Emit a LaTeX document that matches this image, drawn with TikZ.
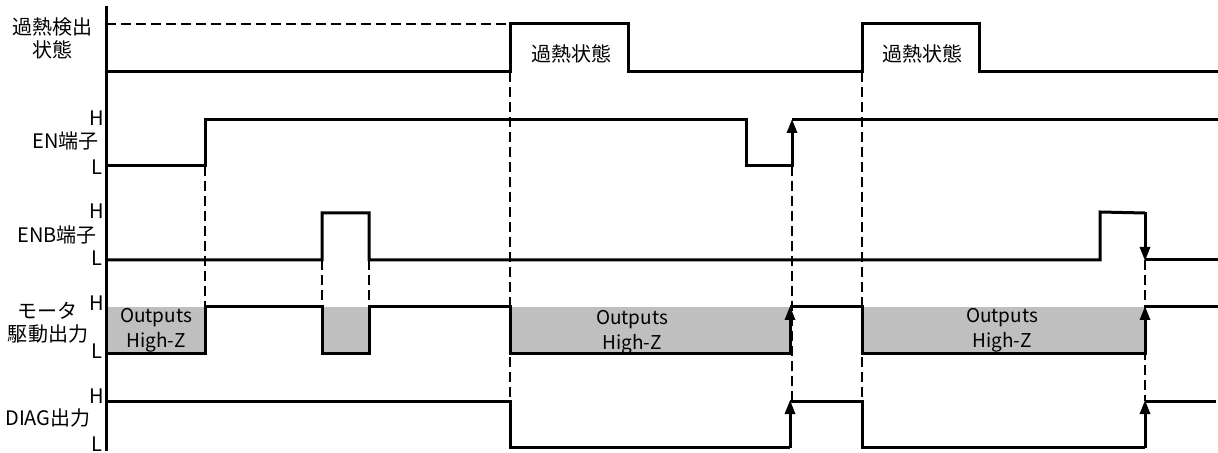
\documentclass[tikz,border=0pt]{standalone}
\usepackage{fontspec}
\setmainfont{Noto Sans CJK JP}
\usetikzlibrary{arrows.meta}
\begin{document}
\begin{tikzpicture}[x=0.5pt,y=-0.5pt,
  sig/.style={line width=1.5pt, line join=miter},
  guide/.style={line width=0.8pt, dash pattern=on 5pt off 2.5pt},
  hz/.style={fill=black!25, draw=none},
  lbl/.style={font=\fontsize{10}{11.5}\selectfont, align=center, inner sep=0pt},
  hl/.style={font=\fontsize{10}{11}\selectfont, inner sep=0pt},
  oz/.style={font=\fontsize{9.5}{12.5}\selectfont, align=center, inner sep=0pt},
  tip/.style={line width=1.5pt, -{Triangle[length=7pt,width=5pt]}}]
\useasboundingbox (0,0) rectangle (1218,453);

% High-Z shaded regions
\fill[hz] (106,307) rectangle (205,354);
\fill[hz] (322,307) rectangle (369,354);
\fill[hz] (510,307) rectangle (790,354);
\fill[hz] (862,307) rectangle (1145,354);

% dashed guides
\draw[guide] (106,24) -- (510,24);
\draw[guide] (205,166) -- (205,307);
\draw[guide] (322,260) -- (322,307);
\draw[guide] (369,260) -- (369,307);
\draw[guide] (510,72) -- (510,447);
\draw[guide] (792,166) -- (792,401);
\draw[guide] (862,72) -- (862,447);
\draw[guide] (1145,260) -- (1145,401);

% axis
\draw[line width=1.5pt] (106,6) -- (106,451);

% row 1: overheat detection
\draw[sig] (106,72) -| (510,24) -| (628,72) -| (862,24) -| (979,72) -- (1218,72);

% row 2: EN
\draw[sig] (106,166) -| (205,120) -| (746,166) -- (792,166);
\draw[tip] (792,167) -- (792,119);
\draw[sig] (792,120) -- (1218,120);

% row 3: ENB
\draw[sig] (106,260) -| (322,213) -| (369,260) -| (1100,212) -- (1145,213);
\draw[tip] (1145,212) -- (1145,261);
\draw[sig] (1145,260) -- (1218,260);

% row 4: motor output
\draw[sig] (106,354) -| (205,307) -| (322,354) -| (369,307) -| (510,354) -- (790,354);
\draw[tip] (790,355) -- (790,306);
\draw[sig] (790,307) -| (862,354) -- (1145,354);
\draw[tip] (1145,355) -- (1145,306);
\draw[sig] (1145,307) -- (1218,307);

% row 5: DIAG
\draw[sig] (106,401) -| (510,447) -- (790,447);
\draw[tip] (790,448) -- (790,400);
\draw[sig] (790,401) -| (862,447) -- (1145,447);
\draw[tip] (1145,448) -- (1145,400);
\draw[sig] (1145,401) -- (1216,401);

% labels
\node[lbl] (t1) at (52,38) {過熱検出\\状態};
\node[lbl, anchor=east] (t2) at (99,141) {EN端子};
\node[lbl, anchor=east] (t3) at (97,235) {ENB端子};
\node[lbl] (t4) at (48,323) {モータ\\駆動出力};
\node[lbl] (t5) at (48,418) {DIAG出力};

\node[hl] (h2) at (97,118) {H};
\node[hl] (l2) at (97,167) {L};
\node[hl] (h3) at (97,211) {H};
\node[hl] (l3) at (97,258) {L};
\node[hl] (h4) at (97,303) {H};
\node[hl] (l4) at (97,351) {L};
\node[hl] (h5) at (97,396) {H};
\node[hl] (l5) at (97,444) {L};

\node[lbl] (s1) at (571,54) {過熱状態};
\node[lbl] (s2) at (922,54) {過熱状態};

\node[oz] (z1) at (156,330) {Outputs\\High-Z};
\node[oz] (z2) at (632,332) {Outputs\\High-Z};
\node[oz] (z3) at (1002,330) {Outputs\\High-Z};
\end{tikzpicture}
\end{document}
